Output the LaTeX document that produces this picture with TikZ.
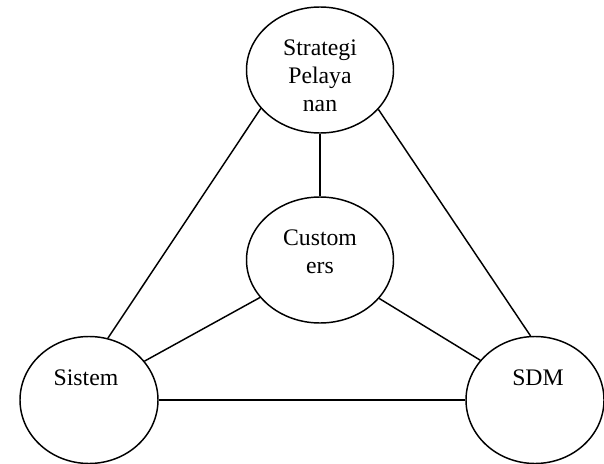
\documentclass[tikz,border=0pt]{standalone}
\usepackage{fontspec}
\setmainfont{Liberation Serif}
\usetikzlibrary{shapes.geometric}

\begin{document}
\begin{tikzpicture}[
    x=0.75pt, y=-0.75pt,
    font=\fontsize{17.8}{21}\selectfont,
    % Estilos
    oval/.style={
        draw, ellipse, fill=white, inner sep=0pt,
        line width=1.1pt
    },
    big_oval/.style={oval, minimum width=110.25pt, minimum height=94.5pt},
    side_oval/.style={oval, minimum width=103.5pt, minimum height=95.25pt},
    % o anchor base fica na ultima linha do texto
    txt/.style={inner sep=0pt, align=center, anchor=base},
    line/.style={-, line width=1.1pt, color=black}
]
    \useasboundingbox (0,0) rectangle (604,464);

    % --- ELIPSES ---
    \node[big_oval] (strategi) at (320,70) {};
    \node[big_oval] (customers) at (320,260) {};
    \node[side_oval] (sistem) at (89,400) {};
    \node[side_oval] (sdm) at (535,400) {};

    % --- TEXTOS ---
    \node[txt] (strategi_txt) at (320,111) {Strategi\\Pelaya\\nan};
    \node[txt] (customers_txt) at (320,273) {Custom\\ers};
    \node[txt] (sistem_txt) at (86,385) {Sistem};
    \node[txt] (sdm_txt) at (538,385) {SDM};

    % --- CONEXÕES ---
    \draw[line] (strategi.south) -- (customers.north);
    \draw[line] (strategi.213.9) -- (sistem.73.2);
    \draw[line] (strategi.326.1) -- (sdm.94.5);
    \draw[line] (customers.212.3) -- (sistem.35.8);
    \draw[line] (customers.327) -- (sdm.144.9);
    \draw[line] (sistem.east) -- (sdm.west);

\end{tikzpicture}
\end{document}
